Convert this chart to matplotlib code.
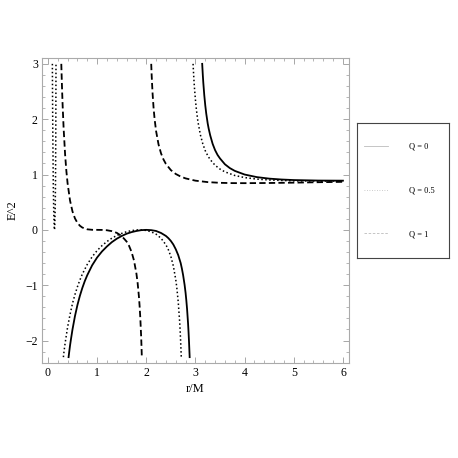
import matplotlib.pyplot as plt
from matplotlib.lines import Line2D
from matplotlib.ticker import MultipleLocator

plt.rcParams['font.family'] = ['Liberation Serif', 'DejaVu Serif']

# Q = 0 (solid)
r_q0_in = [0.4205, 0.43, 0.45, 0.47, 0.5, 0.55, 0.6, 0.65, 0.7, 0.75, 0.8, 0.9, 1.0, 1.1, 1.2, 1.3, 1.4, 1.5,
           1.6, 1.7, 1.8, 1.9, 2.0, 2.1, 2.2, 2.3, 2.4, 2.45, 2.5, 2.55, 2.6, 2.65, 2.7, 2.725, 2.75, 2.78,
           2.8, 2.815, 2.83, 2.85, 2.86, 2.87, 2.88, 2.8826]
e2_q0_in = [-2.30, -2.23, -2.09, -1.97, -1.80, -1.56, -1.36, -1.193, -1.05, -0.926, -0.82, -0.64, -0.50, -0.39,
            -0.30, -0.222, -0.16, -0.111, -0.07, -0.041, -0.02, -0.005, 0.0, -0.005, -0.02, -0.056, -0.11, -0.15,
            -0.20, -0.264, -0.35, -0.456, -0.60, -0.701, -0.82, -0.995, -1.14, -1.275, -1.43, -1.69, -1.847,
            -2.03, -2.24, -2.30]
r_q0_out = [3.1375, 3.15, 3.16, 3.18, 3.2, 3.22, 3.25, 3.27, 3.3, 3.35, 3.4, 3.45, 3.5, 3.6, 3.7, 3.8, 4.0,
            4.25, 4.5, 4.75, 5.0, 5.5, 6.0]
e2_q0_out = [3.0, 2.80, 2.661, 2.433, 2.25, 2.101, 1.92, 1.827, 1.71, 1.554, 1.44, 1.354, 1.29, 1.185, 1.116,
             1.066, 1.0, 0.953, 0.926, 0.91, 0.90, 0.891, 0.889]

# Q = 0.5 (dotted)
r_q05_core = [0.091, 0.092, 0.095, 0.1, 0.11, 0.12, 0.13, 0.134, 0.14, 0.15, 0.155, 0.16, 0.1645]
e2_q05_core = [3.0, 2.82, 2.36, 1.71, 0.80, 0.27, 0.02, 0.0, 0.055, 0.46, 0.91, 1.69, 3.0]
r_q05_in = [0.315, 0.33, 0.35, 0.4, 0.45, 0.5, 0.55, 0.6, 0.65, 0.7, 0.8, 0.9, 1.0, 1.1, 1.2, 1.3, 1.4, 1.5,
            1.6, 1.7, 1.8, 1.866, 2.0, 2.1, 2.2, 2.3, 2.4, 2.45, 2.5, 2.55, 2.6, 2.62, 2.65, 2.68, 2.69, 2.7,
            2.71, 2.712]
e2_q05_in = [-2.30, -2.18, -2.05, -1.76, -1.53, -1.33, -1.169, -1.03, -0.907, -0.80, -0.625, -0.486, -0.375,
             -0.285, -0.211, -0.151, -0.102, -0.064, -0.034, -0.014, -0.002, 0.0, -0.010, -0.035, -0.078,
             -0.151, -0.27, -0.36, -0.48, -0.649, -0.90, -1.033, -1.30, -1.67, -1.836, -2.03, -2.25, -2.30]
r_q05_out = [2.952, 2.96, 2.97, 2.98, 3.0, 3.02, 3.05, 3.1, 3.15, 3.2, 3.25, 3.3, 3.4, 3.5, 3.6, 3.8, 4.0,
             4.25, 4.5, 5.0, 5.5, 6.0]
e2_q05_out = [3.0, 2.86, 2.704, 2.57, 2.35, 2.17, 1.96, 1.72, 1.554, 1.43, 1.342, 1.27, 1.167, 1.098, 1.048,
              0.983, 0.945, 0.917, 0.901, 0.886, 0.882, 0.883]

# Q = 1 (dashed)
r_q1_in = [0.2725, 0.28, 0.29, 0.3, 0.32, 0.35, 0.375, 0.4, 0.45, 0.5, 0.55, 0.6, 0.65, 0.7, 0.8, 0.9, 1.0,
           1.1, 1.2, 1.3, 1.4, 1.5, 1.6, 1.65, 1.7, 1.75, 1.8, 1.825, 1.85, 1.865, 1.88, 1.895, 1.9, 1.905, 1.91]
e2_q1_in = [3.0, 2.77, 2.49, 2.24, 1.83, 1.36, 1.068, 0.844, 0.53, 0.333, 0.208, 0.127, 0.075, 0.042, 0.010,
            0.001, 0.0, -0.001, -0.007, -0.023, -0.054, -0.111, -0.211, -0.288, -0.396, -0.551, -0.79, -0.963,
            -1.196, -1.378, -1.607, -1.901, -2.02, -2.15, -2.30]
r_q1_out = [2.101, 2.11, 2.12, 2.13, 2.15, 2.17, 2.2, 2.25, 2.3, 2.35, 2.4, 2.5, 2.6, 2.7, 2.8, 3.0, 3.25,
            3.5, 3.75, 4.0, 4.5, 5.0, 5.5, 6.0]
e2_q1_out = [3.0, 2.793, 2.61, 2.446, 2.19, 2.001, 1.785, 1.543, 1.384, 1.273, 1.191, 1.08, 1.01, 0.963,
             0.93, 0.889, 0.863, 0.85, 0.845, 0.844, 0.847, 0.853, 0.861, 0.868]

legend_labels = ['Q = 0', 'Q = 0.5', 'Q = 1']

solid = dict(color='black', lw=1.3, linestyle='-')
dotted = dict(color='black', lw=1.1, linestyle=(0, (1, 1.6)))
dashed = dict(color='black', lw=1.3, linestyle=(0, (3.5, 1.8)))

fig = plt.figure(figsize=(4.58, 4.58), dpi=100)
ax = fig.add_axes([0.0917, 0.2074, 0.670, 0.666])

ax.plot(r_q0_in, e2_q0_in, **solid)
ax.plot(r_q0_out, e2_q0_out, **solid)
ax.plot(r_q05_core, e2_q05_core, **dotted)
ax.plot(r_q05_in, e2_q05_in, **dotted)
ax.plot(r_q05_out, e2_q05_out, **dotted)
ax.plot(r_q1_in, e2_q1_in, **dashed)
ax.plot(r_q1_out, e2_q1_out, **dashed)

ax.set_xlim(-0.12, 6.12)
ax.set_ylim(-2.406, 3.106)
ax.xaxis.set_major_locator(MultipleLocator(1))
ax.xaxis.set_minor_locator(MultipleLocator(0.2))
ax.yaxis.set_major_locator(MultipleLocator(1))
ax.yaxis.set_minor_locator(MultipleLocator(0.2))
ax.tick_params(which='both', direction='in', top=True, right=True, color='#999999',
               labelsize=8.5, pad=3)
ax.tick_params(which='major', length=4, width=0.6)
ax.tick_params(which='minor', length=2, width=0.5)
for s in ax.spines.values():
    s.set_color('#aaaaaa')
    s.set_linewidth(0.8)
ax.set_xlabel('r/M', fontsize=9, labelpad=3)
ax.set_ylabel('E^2', fontsize=9, labelpad=5)

# legend box
lax = fig.add_axes([0.7795, 0.4367, 0.2009, 0.2948])
lax.set_xticks([])
lax.set_yticks([])
for s in lax.spines.values():
    s.set_color('#444444')
    s.set_linewidth(0.8)
handles = [Line2D([], [], color='#bbbbbb', lw=0.6, linestyle='-'),
           Line2D([], [], color='#bbbbbb', lw=0.6, linestyle=(0, (1, 2))),
           Line2D([], [], color='#bbbbbb', lw=0.6, linestyle=(0, (3, 2)))]
lax.legend(handles, legend_labels, loc='center left', frameon=False, fontsize=6,
           labelspacing=4.3, handlelength=2.9, handletextpad=2.5, borderaxespad=0.4)

fig.savefig('out.png', dpi=100)
